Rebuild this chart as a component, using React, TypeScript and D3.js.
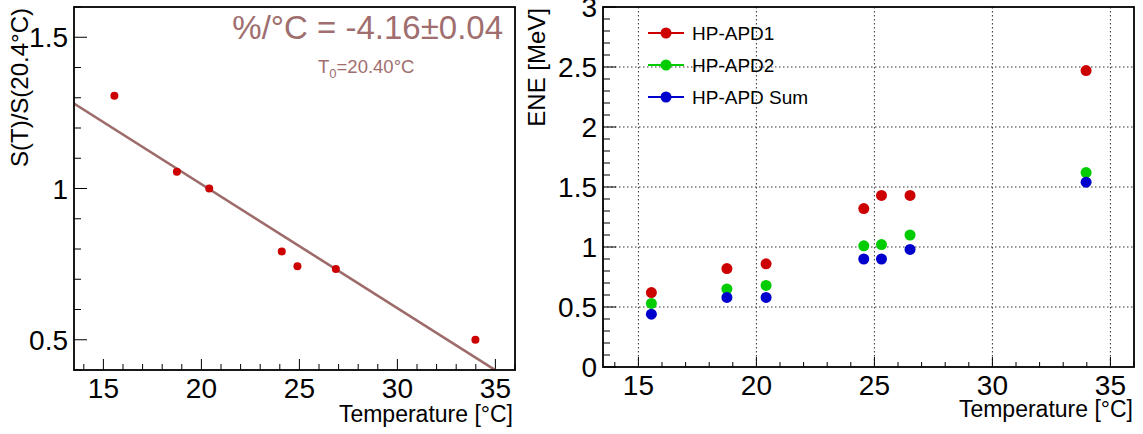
// Two ROOT-style panels: S(T)/S(20.4°C) with a linear fit, and ENE vs temperature
import React from "react";
import { scaleLinear, range, line } from "d3";

const width = 1143;
const height = 434;
const font = "'Liberation Sans', Arial, Helvetica, sans-serif";

// left panel data
const tempLeft = [15.56, 18.75, 20.4, 24.1, 24.9, 26.86, 33.98];
const ratio = [1.307, 1.055, 1.0, 0.792, 0.743, 0.734, 0.5];
const fitT0 = 20.4;
const fitOffset = 0.998;
const fitSlope = -0.041;
const fitLabel = "%/°C = -4.16±0.04";

// right panel data
const tempRight = [15.55, 18.75, 20.41, 24.55, 25.3, 26.51, 33.97];
const eneApd1 = [0.62, 0.82, 0.86, 1.32, 1.43, 1.43, 2.47];
const eneApd2 = [0.53, 0.65, 0.68, 1.01, 1.02, 1.1, 1.62];
const eneSum = [0.44, 0.58, 0.58, 0.9, 0.9, 0.98, 1.54];
const seriesNames = ["HP-APD1", "HP-APD2", "HP-APD Sum"];
const seriesColors = ["#cc0000", "#00cc00", "#0000cc"];

const xTicks = [15, 20, 25, 30, 35];
const leftYTicks = [0.5, 1, 1.5];
const rightYTicks = [0, 0.5, 1, 1.5, 2, 2.5, 3];

const fitColor = "#9e6b6b";
const fitTextColor = "#a06e6e";

const Frame = ({ x0, x1, y0, y1 }: any) => (
    <rect
        x={x0}
        y={y0}
        width={x1 - x0}
        height={y1 - y0}
        fill="none"
        stroke="#000"
        strokeWidth={1.8}
    />
);

const App = () => {
    // left panel scales
    const xL = scaleLinear().domain([13.5, 36]).range([74, 515]);
    const yL = scaleLinear().domain([0.4, 1.6]).range([370, 7]);
    // right panel scales
    const xR = scaleLinear().domain([13.5, 36]).range([603, 1134]);
    const yR = scaleLinear().domain([0, 3]).range([367, 7]);

    const xMinor = range(14, 37, 1);
    const leftYMinor = range(4, 17, 1).map((v) => v / 10);
    const rightYMinor = range(0, 31, 1).map((v) => v / 10);

    const fitT = [13.5, 36];
    const fitPath = line<number>()
        .x((t) => xL(t))
        .y((t) => yL(fitOffset + fitSlope * (t - fitT0)))(fitT);

    const rightSeries = [eneApd1, eneApd2, eneSum];

    return (
        <div style={{ position: "absolute", left: 0, top: 0 }}>
            <svg width={width} height={height} style={{ display: "block" }}>
                <rect width={width} height={height} fill="#fff" />
                <defs>
                    <clipPath id="leftClip">
                        <rect x={74} y={7} width={441} height={363} />
                    </clipPath>
                </defs>

                {/* ---------- left panel ---------- */}
                <g fontFamily={font}>
                    {xMinor.map((t) => {
                        const major = t % 5 === 0;
                        return (
                            <line
                                key={"lxm" + t}
                                x1={xL(t)}
                                x2={xL(t)}
                                y1={370}
                                y2={370 - (major ? 11 : 6)}
                                stroke="#000"
                                strokeWidth={1}
                            />
                        );
                    })}
                    {leftYMinor.map((v) => {
                        const major = Math.abs(v * 2 - Math.round(v * 2)) < 1e-6;
                        return (
                            <line
                                key={"lym" + v}
                                x1={74}
                                x2={74 + (major ? 13 : 7)}
                                y1={yL(v)}
                                y2={yL(v)}
                                stroke="#000"
                                strokeWidth={1}
                            />
                        );
                    })}
                    {xTicks.map((t) => (
                        <text
                            key={"lxl" + t}
                            x={xL(t)}
                            y={398}
                            fontSize={28}
                            textAnchor="middle"
                        >
                            {t}
                        </text>
                    ))}
                    {leftYTicks.map((v) => (
                        <text
                            key={"lyl" + v}
                            x={68}
                            y={yL(v) + 10}
                            fontSize={28}
                            textAnchor="end"
                        >
                            {v}
                        </text>
                    ))}

                    <path
                        d={fitPath || ""}
                        fill="none"
                        stroke={fitColor}
                        strokeWidth={2.6}
                        clipPath="url(#leftClip)"
                    />
                    {tempLeft.map((t, i) => (
                        <circle
                            key={"lp" + i}
                            cx={xL(t)}
                            cy={yL(ratio[i])}
                            r={4}
                            fill="#cc0000"
                        />
                    ))}

                    <Frame x0={74} x1={515} y0={7} y1={370} />

                    <text
                        x={503}
                        y={39}
                        fontSize={33}
                        textAnchor="end"
                        fill={fitTextColor}
                    >
                        {fitLabel}
                    </text>
                    <text x={318} y={73} fontSize={18.5} fill={fitTextColor}>
                        T
                        <tspan fontSize={13} dy={5}>
                            0
                        </tspan>
                        <tspan dy={-5}>=20.40°C</tspan>
                    </text>

                    <text
                        transform="translate(28,8) rotate(-90)"
                        fontSize={24}
                        textAnchor="end"
                    >
                        S(T)/S(20.4°C)
                    </text>
                    <text x={513} y={422} fontSize={23} textAnchor="end">
                        Temperature [°C]
                    </text>
                </g>

                {/* ---------- right panel ---------- */}
                <g fontFamily={font}>
                    {xTicks.map((t) => (
                        <line
                            key={"rgx" + t}
                            x1={xR(t)}
                            x2={xR(t)}
                            y1={7}
                            y2={367}
                            stroke="#333"
                            strokeWidth={1}
                            strokeDasharray="1.5 2.5"
                        />
                    ))}
                    {rightYTicks
                        .filter((v) => v > 0 && v < 3)
                        .map((v) => (
                            <line
                                key={"rgy" + v}
                                x1={603}
                                x2={1134}
                                y1={yR(v)}
                                y2={yR(v)}
                                stroke="#333"
                                strokeWidth={1}
                                strokeDasharray="1.5 2.5"
                            />
                        ))}
                    {xMinor.map((t) => {
                        const major = t % 5 === 0;
                        return (
                            <line
                                key={"rxm" + t}
                                x1={xR(t)}
                                x2={xR(t)}
                                y1={367}
                                y2={367 - (major ? 10 : 5)}
                                stroke="#000"
                                strokeWidth={1}
                            />
                        );
                    })}
                    {rightYMinor.map((v) => {
                        const major = Math.abs(v * 2 - Math.round(v * 2)) < 1e-6;
                        return (
                            <line
                                key={"rym" + v}
                                x1={603}
                                x2={603 + (major ? 13 : 7)}
                                y1={yR(v)}
                                y2={yR(v)}
                                stroke="#000"
                                strokeWidth={1}
                            />
                        );
                    })}
                    {xTicks.map((t) => (
                        <text
                            key={"rxl" + t}
                            x={xR(t)}
                            y={395}
                            fontSize={28}
                            textAnchor="middle"
                        >
                            {t}
                        </text>
                    ))}
                    {rightYTicks.map((v) => (
                        <text
                            key={"ryl" + v}
                            x={597}
                            y={yR(v) + 10}
                            fontSize={28}
                            textAnchor="end"
                        >
                            {v}
                        </text>
                    ))}

                    {rightSeries.map((vals, s) =>
                        vals.map((v, i) => (
                            <circle
                                key={"rp" + s + "-" + i}
                                cx={xR(tempRight[i])}
                                cy={yR(v)}
                                r={5.5}
                                fill={seriesColors[s]}
                            />
                        ))
                    )}

                    <Frame x0={603} x1={1134} y0={7} y1={367} />

                    {seriesNames.map((name, s) => {
                        const ly = 33 + s * 32;
                        return (
                            <g key={"lg" + s}>
                                <line
                                    x1={648}
                                    x2={684}
                                    y1={ly}
                                    y2={ly}
                                    stroke={seriesColors[s]}
                                    strokeWidth={2}
                                />
                                <circle
                                    cx={666}
                                    cy={ly}
                                    r={5.5}
                                    fill={seriesColors[s]}
                                />
                                <text x={692} y={ly + 7} fontSize={19}>
                                    {name}
                                </text>
                            </g>
                        );
                    })}

                    <text
                        transform="translate(545,8) rotate(-90)"
                        fontSize={24}
                        textAnchor="end"
                    >
                        ENE [MeV]
                    </text>
                    <text x={1133} y={417} fontSize={23} textAnchor="end">
                        Temperature [°C]
                    </text>
                </g>
            </svg>
        </div>
    );
};

export default App;
